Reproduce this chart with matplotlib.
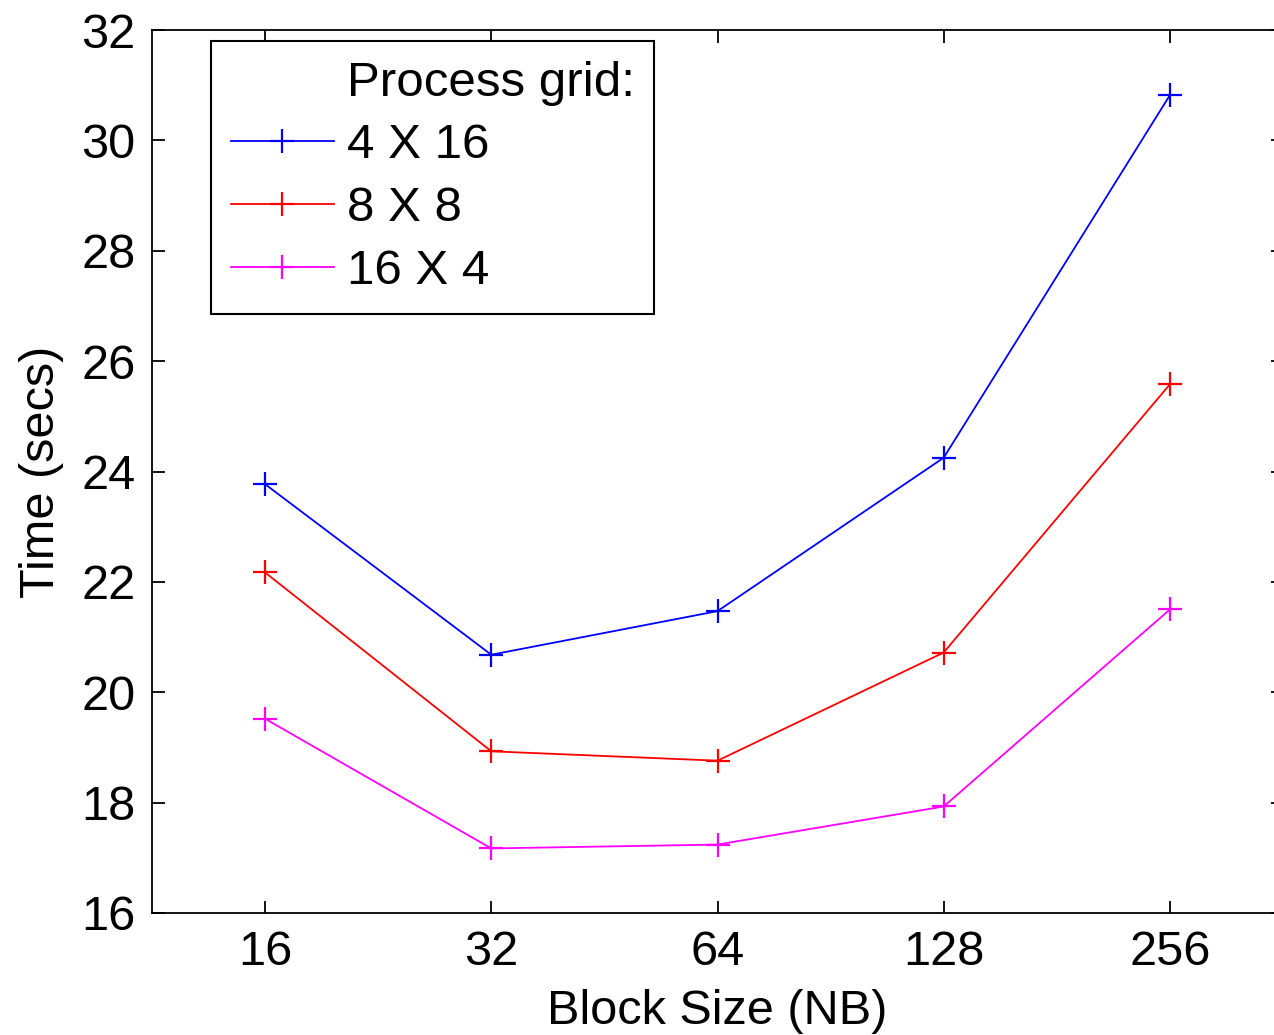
import matplotlib.pyplot as plt

# === DATA ===
block_sizes = ["16", "32", "64", "128", "256"]
grid_4x16 = [23.77, 20.68, 21.47, 24.25, 30.82]
grid_8x8 = [22.17, 18.93, 18.76, 20.72, 25.58]
grid_16x4 = [19.52, 17.17, 17.24, 17.93, 21.50]

series = [
    ("4 X 16", grid_4x16, "#0000ff"),
    ("8 X 8", grid_8x8, "#ff0000"),
    ("16 X 4", grid_16x4, "#ff00ff"),
]

plt.rcParams['font.family'] = ['Liberation Sans', 'DejaVu Sans']

fig = plt.figure(figsize=(12.74, 10.35), dpi=100)
ax = fig.add_axes([152 / 1274, 1 - 913 / 1035, (1283 - 152) / 1274, (913 - 30) / 1035])

xs = range(len(block_sizes))
# dummy entry so the legend heading sits in line with the labels
ax.plot([], [], ' ', label="Process grid:")
for name, vals, col in series:
    ax.plot(xs, vals, color=col, lw=1.3, marker='+', markersize=17,
            markeredgewidth=1.6, label=name)

ax.set_xlim(-0.5, 4.5)
ax.set_ylim(16, 32)
ax.set_xticks(list(xs))
ax.set_xticklabels(block_sizes)
ax.set_yticks(range(16, 33, 2))
ax.tick_params(direction='in', top=True, right=True, length=9, width=1.3,
               labelsize=35, pad=12)
for sp in ax.spines.values():
    sp.set_linewidth(1.3)

ax.set_xlabel("Block Size (NB)", fontsize=35, labelpad=10)
ax.set_ylabel("Time (secs)", fontsize=35, labelpad=12)

leg = ax.legend(loc='upper left', bbox_to_anchor=(211 / 1274, 1 - 41 / 1035),
                bbox_transform=fig.transFigure, borderaxespad=0,
                fontsize=35.5, fancybox=False, edgecolor='black', framealpha=1,
                handlelength=2.1, handletextpad=0.25, labelspacing=0.36,
                borderpad=0.4)
leg.get_frame().set_linewidth(1.5)

fig.savefig("out.png", dpi=100)
